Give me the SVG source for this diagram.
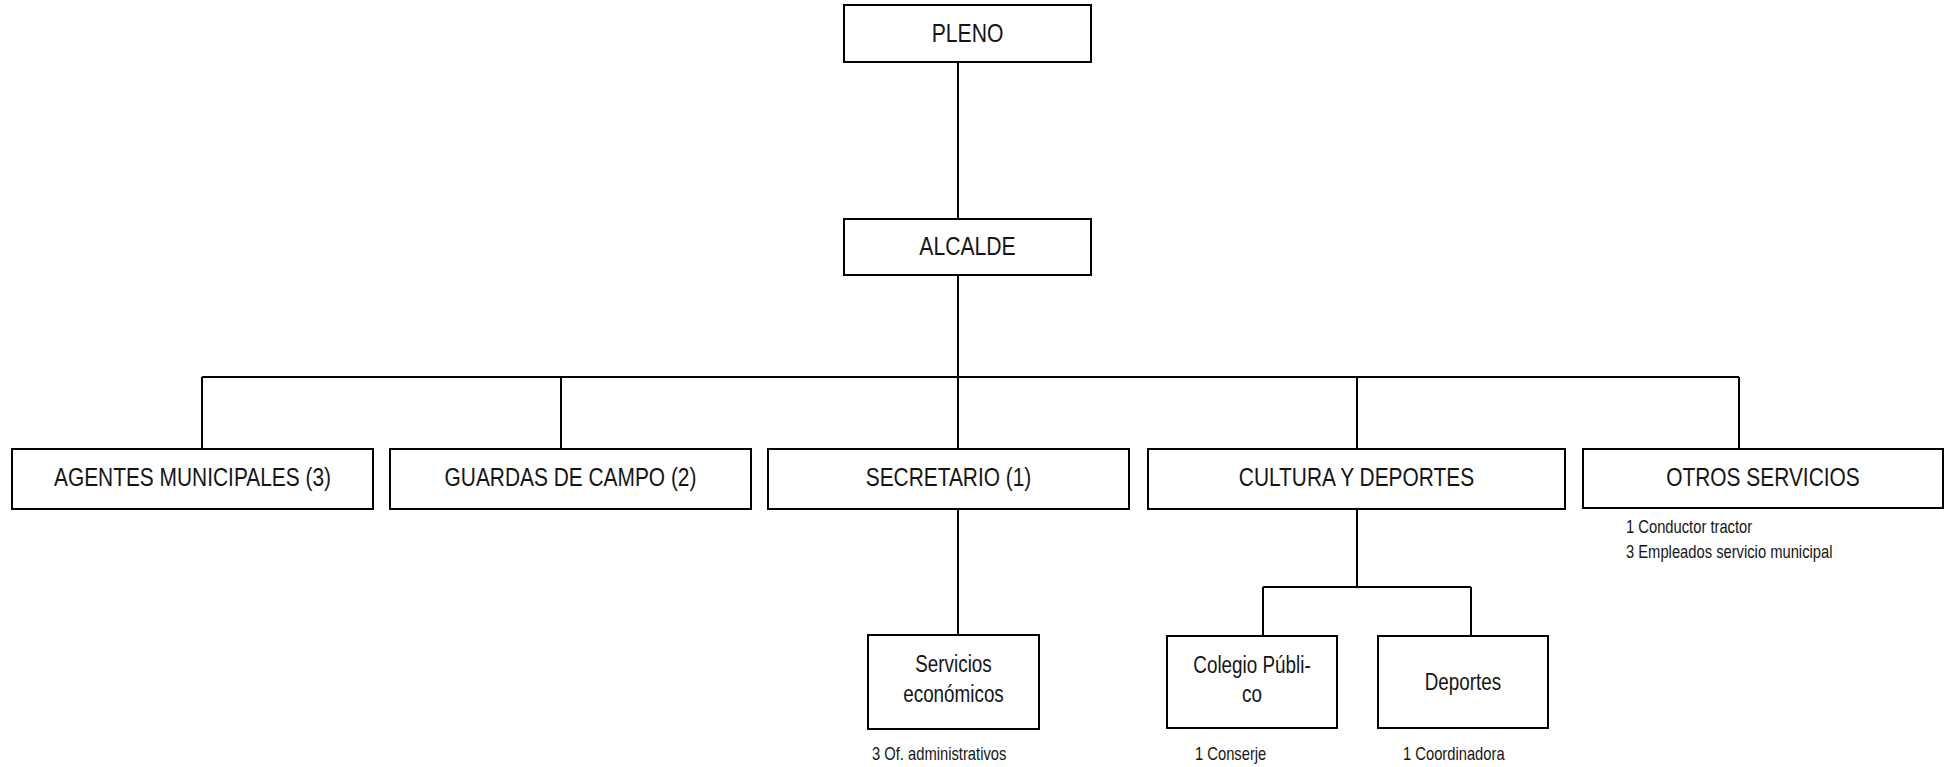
<svg xmlns="http://www.w3.org/2000/svg" width="1955" height="767" viewBox="0 0 1955 767">
<style>
.box{fill:#fff;stroke:#000;stroke-width:2}
.con{fill:none;stroke:#000;stroke-width:2}
.lbl{font-family:"Liberation Sans",Arial,sans-serif;font-size:25.5px;fill:#151515;text-anchor:middle}
.lbl2{font-family:"Liberation Sans",Arial,sans-serif;font-size:23px;fill:#151515;text-anchor:middle}
.sub{font-family:"Liberation Sans",Arial,sans-serif;font-size:18px;fill:#151515}
</style>
<rect width="1955" height="767" fill="#fff"/>
<g id="connectors">
<path class="con" d="M958 62V219M958 275V449M958 509V635M202 377H1739M202 377V449M561 377V449M1357 377V449M1739 377V449M1357 509V587M1263 587H1471M1263 587V636M1471 587V636"/>
</g>
<g id="pleno"><rect class="box" x="844" y="5" width="247" height="57"/><text class="lbl" transform="translate(967.5 42) scale(0.83 1)">PLENO</text></g>
<g id="alcalde"><rect class="box" x="844" y="219" width="247" height="56"/><text class="lbl" transform="translate(967.5 255) scale(0.83 1)">ALCALDE</text></g>
<g id="agentes"><rect class="box" x="12" y="449" width="361" height="60"/><text class="lbl" transform="translate(192.5 486) scale(0.82 1)">AGENTES MUNICIPALES (3)</text></g>
<g id="guardas"><rect class="box" x="390" y="449" width="361" height="60"/><text class="lbl" transform="translate(570.5 486) scale(0.82 1)">GUARDAS DE CAMPO (2)</text></g>
<g id="secretario"><rect class="box" x="768" y="449" width="361" height="60"/><text class="lbl" transform="translate(948.5 486) scale(0.82 1)">SECRETARIO (1)</text></g>
<g id="cultura"><rect class="box" x="1148" y="449" width="417" height="60"/><text class="lbl" transform="translate(1356.5 486) scale(0.82 1)">CULTURA Y DEPORTES</text></g>
<g id="otros"><rect class="box" x="1583" y="449" width="360" height="59"/><text class="lbl" transform="translate(1763 486) scale(0.82 1)">OTROS SERVICIOS</text>
<text class="sub" transform="translate(1626 533) scale(0.82 1)">1 Conductor tractor</text><text class="sub" transform="translate(1626 558) scale(0.82 1)">3 Empleados servicio municipal</text></g>
<g id="servicios"><rect class="box" x="868" y="635" width="171" height="94"/><text class="lbl2" transform="translate(953.5 672) scale(0.82 1)">Servicios</text><text class="lbl2" transform="translate(953.5 702) scale(0.82 1)">económicos</text>
<text class="sub" transform="translate(872 760) scale(0.82 1)">3 Of. administrativos</text></g>
<g id="colegio"><rect class="box" x="1167" y="636" width="170" height="92"/><text class="lbl2" transform="translate(1252 673) scale(0.82 1)">Colegio Públi-</text><text class="lbl2" transform="translate(1252 702) scale(0.82 1)">co</text>
<text class="sub" transform="translate(1195 760) scale(0.82 1)">1 Conserje</text></g>
<g id="deportes"><rect class="box" x="1378" y="636" width="170" height="92"/><text class="lbl2" transform="translate(1463 690) scale(0.82 1)">Deportes</text>
<text class="sub" transform="translate(1403 760) scale(0.82 1)">1 Coordinadora</text></g>
</svg>
